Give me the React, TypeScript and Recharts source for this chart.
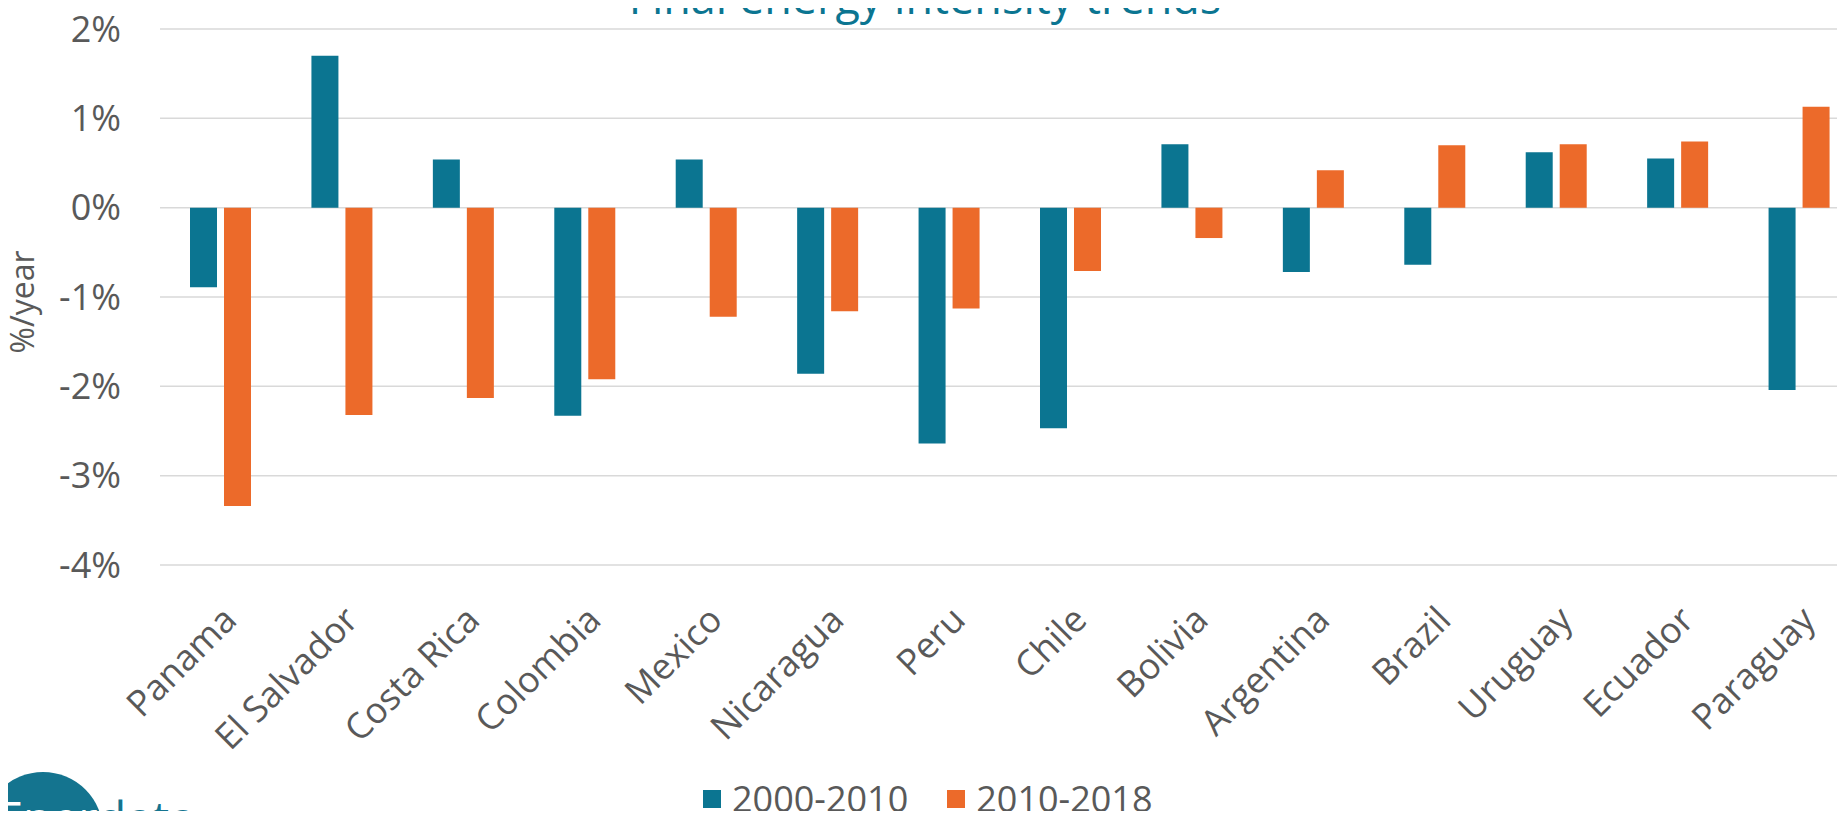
import React from 'react';
import { BarChart, Bar, XAxis, YAxis, CartesianGrid, Legend } from 'recharts';

const countries = ['Panama', 'El Salvador', 'Costa Rica', 'Colombia', 'Mexico', 'Nicaragua', 'Peru', 'Chile', 'Bolivia', 'Argentina', 'Brazil', 'Uruguay', 'Ecuador', 'Paraguay'];
const trend2000to2010 = [-0.89, 1.70, 0.54, -2.33, 0.54, -1.86, -2.64, -2.47, 0.71, -0.72, -0.64, 0.62, 0.55, -2.04];
const trend2010to2018 = [-3.34, -2.32, -2.13, -1.92, -1.22, -1.16, -1.13, -0.71, -0.34, 0.42, 0.70, 0.71, 0.74, 1.13];
const yTicks = [-4, -3, -2, -1, 0, 1, 2];
const seriesNames = ['2000-2010', '2010-2018'];
const titleText = 'Final energy intensity trends';
const yAxisTitle = '%/year';

const TEAL = '#0b7591';
const ORANGE = '#ec6a2a';
const GRAY = '#595959';
const FONT = '"Open Sans", "Noto Sans", sans-serif';

const data = countries.map((c, i) => ({ name: c, a: trend2000to2010[i], b: trend2010to2018[i] }));

const XTick = (props: any) => {
  const { x, y, payload } = props;
  const tx = x + 18;
  const ty = y + 57;
  return (
    <text x={tx} y={ty} textAnchor="end" transform={`rotate(-45 ${tx} ${ty})`} fill={GRAY} fontSize={36} fontFamily={FONT}>
      {payload.value}
    </text>
  );
};

const YLabel = (p: any) => {
  const vb = p.viewBox || { y: 0, height: 0 };
  const cy = vb.y + vb.height / 2 + 5;
  const lx = 34;
  return (
    <text x={lx} y={cy} transform={`rotate(-90 ${lx} ${cy})`} textAnchor="middle" fill={GRAY} fontSize={32} fontFamily={FONT}>
      {yAxisTitle}
    </text>
  );
};

const renderLegend = (props: any) => {
  const payload = props.payload || [];
  return (
    <div style={{ display: 'flex', alignItems: 'center', fontFamily: FONT, fontSize: 36, lineHeight: '36px', color: GRAY, whiteSpace: 'nowrap' }}>
      {payload.map((item: any, i: number) => (
        <div key={i} style={{ display: 'flex', alignItems: 'center', marginLeft: i === 0 ? 0 : 39 }}>
          <span style={{ display: 'inline-block', width: 18, height: 18, background: item.color, marginRight: 11 }} />
          <span>{item.value}</span>
        </div>
      ))}
    </div>
  );
};

export default function App() {
  return (
    <div style={{ position: 'relative', width: 1845, height: 819, margin: -8, overflow: 'hidden', background: '#fff' }}>
      <BarChart
        width={1860}
        height={819}
        data={data}
        margin={{ top: 29, right: 0, bottom: 0, left: 0 }}
        barSize={27}
        barGap={7}
      >
        <CartesianGrid horizontal vertical={false} stroke="#d9d9d9" strokeWidth={1.5} />
        <XAxis
          dataKey="name"
          type="category"
          height={254}
          axisLine={false}
          tickLine={false}
          tickSize={0}
          tickMargin={0}
          interval={0}
          tick={<XTick />}
        />
        <YAxis
          type="number"
          domain={[-4, 2]}
          ticks={yTicks}
          width={160}
          axisLine={false}
          tickLine={false}
          tickSize={0}
          tickMargin={39}
          tickFormatter={(v: number) => `${v}%`}
          tick={{ fill: GRAY, fontSize: 36, fontFamily: FONT }}
          label={{ content: <YLabel /> }}
        />
        <Legend
          layout="horizontal"
          verticalAlign="middle"
          align="center"
          content={renderLegend}
          wrapperStyle={{ position: 'absolute', left: 703, top: 781, width: 'auto' }}
        />
        <Bar dataKey="a" name={seriesNames[0]} fill={TEAL} isAnimationActive={false} />
        <Bar dataKey="b" name={seriesNames[1]} fill={ORANGE} isAnimationActive={false} />
      </BarChart>
      <svg width={1845} height={819} style={{ position: 'absolute', left: 0, top: 0, pointerEvents: 'none' }}>
        <defs>
          <clipPath id="logoClip">
            <circle cx={43} cy={832} r={60} />
          </clipPath>
        </defs>
        <text x={925} y={13.5} textAnchor="middle" fill={TEAL} fontSize={45} fontFamily={FONT}>
          {titleText}
        </text>
        <circle cx={43} cy={832} r={60} fill="#14748f" />
        <text x={-3} y={836} fill="#14748f" fontSize={47} fontFamily={FONT}>Enerdata</text>
        <text x={-3} y={836} fill="#ffffff" fontSize={47} fontFamily={FONT} clipPath="url(#logoClip)">Enerdata</text>
      </svg>
    </div>
  );
}
